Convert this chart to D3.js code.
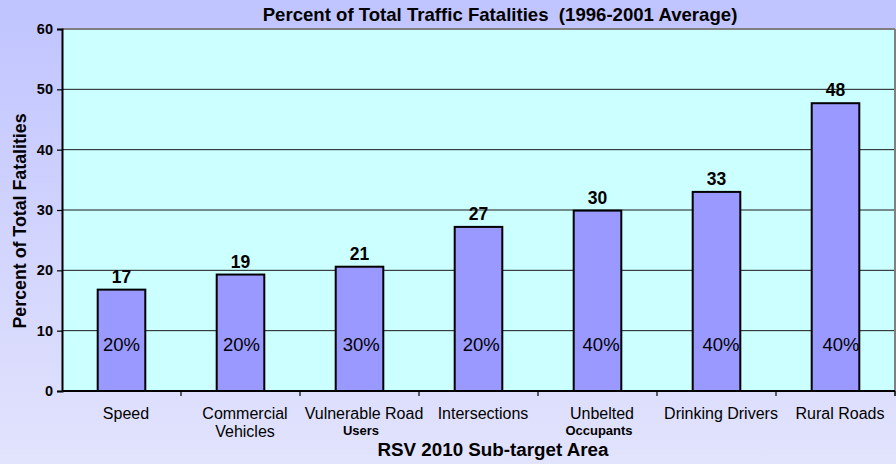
<!DOCTYPE html>
<html><head><meta charset="utf-8">
<script src="https://cdn.jsdelivr.net/npm/d3@7"></script>
<style>body{margin:0;padding:0;overflow:hidden}svg{display:block}text{font-family:Arial,"Liberation Sans",sans-serif}</style>
</head><body>
<svg id="chart" width="896" height="464"></svg>
<script>
const categories = ["Speed","Commercial Vehicles","Vulnerable Road Users","Intersections","Unbelted Occupants","Drinking Drivers","Rural Roads"];
const labelLine1 = ["Speed","Commercial","Vulnerable Road","Intersections","Unbelted","Drinking Drivers","Rural Roads"];
const labelLine2 = ["","Vehicles","Users","","Occupants","",""];
const labelLine2Bold = [false,false,true,false,true,false,false];
const values = [16.8, 19.3, 20.6, 27.2, 29.9, 33.0, 47.7];
const targets = ["20%","20%","30%","20%","40%","40%","40%"];
const yTicks = [0,10,20,30,40,50,60];
const titleText = "Percent of Total Traffic Fatalities  (1996-2001 Average)";
const xTitle = "RSV 2010 Sub-target Area";
const yTitle = "Percent of Total Fatalities";

const svg = d3.select("#chart");
const W = 896, H = 464;
const mLeft = 62, mRight = 895, mTop = 29, mBottom = 391;

const defs = svg.append("defs");
const grad = defs.append("linearGradient").attr("id","bg").attr("x1",0).attr("y1",0).attr("x2",0).attr("y2",1);
grad.append("stop").attr("offset","0%").attr("stop-color","#c0c4ff");
grad.append("stop").attr("offset","100%").attr("stop-color","#e2e3fc");
svg.append("rect").attr("width",W).attr("height",H).attr("fill","url(#bg)");

const x = d3.scaleBand().domain(categories).range([mLeft,mRight]).paddingInner(0.6).paddingOuter(0.3);
const y = d3.scaleLinear().domain([0,60]).range([mBottom,mTop]);

// plot area
svg.append("rect").attr("x",mLeft).attr("y",mTop).attr("width",mRight-mLeft).attr("height",mBottom-mTop).attr("fill","#ccffff");

// gridlines
svg.append("g").selectAll("line").data(yTicks.filter(d=>d>0 && d<60)).join("line")
  .attr("x1",mLeft).attr("x2",mRight).attr("y1",d=>y(d)).attr("y2",d=>y(d))
  .attr("stroke","#1a1a1a").attr("stroke-width",1);

// plot border top/right
svg.append("line").attr("x1",mLeft).attr("x2",mRight).attr("y1",y(60)).attr("y2",y(60)).attr("stroke","#808080").attr("stroke-width",2);
svg.append("line").attr("x1",mRight).attr("x2",mRight).attr("y1",mTop).attr("y2",mBottom+5).attr("stroke","#808080").attr("stroke-width",2);

// bars
svg.append("g").selectAll("rect").data(categories).join("rect")
  .attr("x",d=>x(d)).attr("y",(d,i)=>y(values[i]))
  .attr("width",x.bandwidth()).attr("height",(d,i)=>y(0)-y(values[i]))
  .attr("fill","#9999ff").attr("stroke","#000").attr("stroke-width",2);

// y axis
const yAxis = d3.axisLeft(y).tickValues(yTicks).tickSize(5).tickPadding(4).tickFormat(d3.format("d"));
const gy = svg.append("g").attr("transform",`translate(${mLeft},0)`).call(yAxis);
gy.select(".domain").attr("stroke","#000").attr("stroke-width",2);
gy.selectAll(".tick line").attr("stroke","#000").attr("stroke-width",1.2);
gy.selectAll(".tick text").attr("font-family","Arial,'Liberation Sans',sans-serif").attr("font-size",14.5).attr("font-weight","bold").attr("fill","#000");

// x axis line and ticks at band boundaries
const step = x.step();
const boundaries = d3.range(1, categories.length+1).map(i => x(categories[0]) - x.paddingOuter()*step + i*step);
svg.append("line").attr("x1",mLeft).attr("x2",mRight).attr("y1",y(0)).attr("y2",y(0)).attr("stroke","#000").attr("stroke-width",2);
svg.append("g").selectAll("line").data(boundaries).join("line")
  .attr("x1",d=>d).attr("x2",d=>d).attr("y1",y(0)).attr("y2",y(0)+5).attr("stroke","#000").attr("stroke-width",1.2);

// x labels
const xl = svg.append("g");
categories.forEach((c,i)=>{
  const cx = x(c)+x.bandwidth()/2;
  xl.append("text").attr("x",cx+4.5).attr("y",419).attr("text-anchor","middle").attr("font-size",16).attr("fill","#000").text(labelLine1[i]);
  if(labelLine2[i]){
    xl.append("text").attr("x",cx+(labelLine2Bold[i]?1.5:4.5)).attr("y",labelLine2Bold[i]?435:437)
      .attr("text-anchor","middle").attr("font-size",labelLine2Bold[i]?13:16).attr("font-weight",labelLine2Bold[i]?"bold":"normal").attr("fill","#000").text(labelLine2[i]);
  }
});

// value labels
const fmt = d3.format(".0f");
svg.append("g").selectAll("text").data(categories).join("text")
  .attr("x",d=>x(d)+x.bandwidth()/2).attr("y",(d,i)=>y(values[i])-7)
  .attr("text-anchor","middle").attr("font-size",17.5).attr("font-weight","bold").attr("fill","#000")
  .text((d,i)=>fmt(values[i]));

// target labels inside bars
svg.append("g").selectAll("text").data(categories).join("text")
  .attr("x",(d,i)=>x(d)+x.bandwidth()/2+i*0.9).attr("y",y(0)-40.5)
  .attr("text-anchor","middle").attr("font-size",18.5).attr("fill","#000")
  .text((d,i)=>targets[i]);

// titles
svg.append("text").attr("x",500).attr("y",21).attr("text-anchor","middle").attr("font-size",18.6).attr("font-weight","bold")
  .style("white-space","pre").attr("fill","#000").text(titleText);
svg.append("text").attr("x",493).attr("y",456).attr("text-anchor","middle").attr("font-size",18.8).attr("font-weight","bold").attr("fill","#000").text(xTitle);
svg.append("text").attr("transform","translate(26,221) rotate(-90)").attr("text-anchor","middle").attr("font-size",17.8).attr("font-weight","bold").attr("fill","#000").text(yTitle);
</script>
</body></html>
